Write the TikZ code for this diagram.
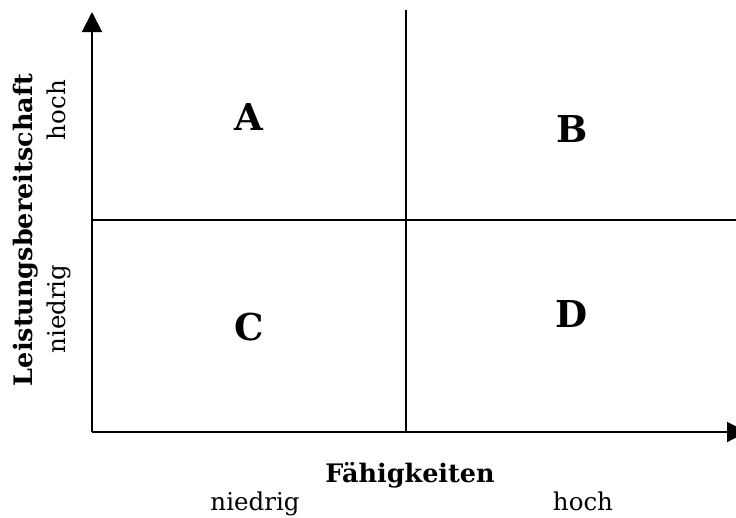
\documentclass[tikz,border=0pt]{standalone}
\usepackage{fontspec}
\setmainfont{DejaVu Serif}
\usetikzlibrary{arrows.meta}
\begin{document}
\begin{tikzpicture}[x=1pt,y=-1pt,
  axis/.style={line width=2pt,-{Triangle[length=20pt,width=20pt]}},
  grid/.style={line width=1.5pt},
  quad/.style={anchor=base,inner sep=0pt,font=\bfseries\fontsize{37}{40}\selectfont},
  lvl/.style={anchor=base,inner sep=0pt,font=\fontsize{24.5}{28}\selectfont},
  ttl/.style={anchor=base,inner sep=0pt,font=\bfseries\fontsize{25.5}{30}\selectfont}]
\useasboundingbox (0,0) rectangle (736,517);
\coordinate (o) at (92,432);
\coordinate (ytip) at (92,12);
\coordinate (xtip) at (747,432);
\coordinate (vt) at (406,10);
\coordinate (vb) at (406,432);
\coordinate (hl) at (92,220);
\coordinate (hr) at (736,220);
\draw[grid] (vt) -- (vb);
\draw[grid] (hl) -- (hr);
\draw[axis] (o) -- (ytip);
\draw[axis] (o) -- (xtip);
\node[quad] (A) at (249,130) {A};
\node[quad] (B) at (572,142) {B};
\node[quad] (C) at (249,340) {C};
\node[quad] (D) at (572,327) {D};
\node[ttl] (fx) at (410,482) {Fähigkeiten};
\node[lvl] (xn) at (255,510) {niedrig};
\node[lvl] (xh) at (583,510) {hoch};
\node[ttl,rotate=90] (fy) at (32,230) {Leistungsbereitschaft};
\node[lvl,rotate=90] (yh) at (65,110) {hoch};
\node[lvl,rotate=90] (yn) at (65,309) {niedrig};
\end{tikzpicture}
\end{document}
